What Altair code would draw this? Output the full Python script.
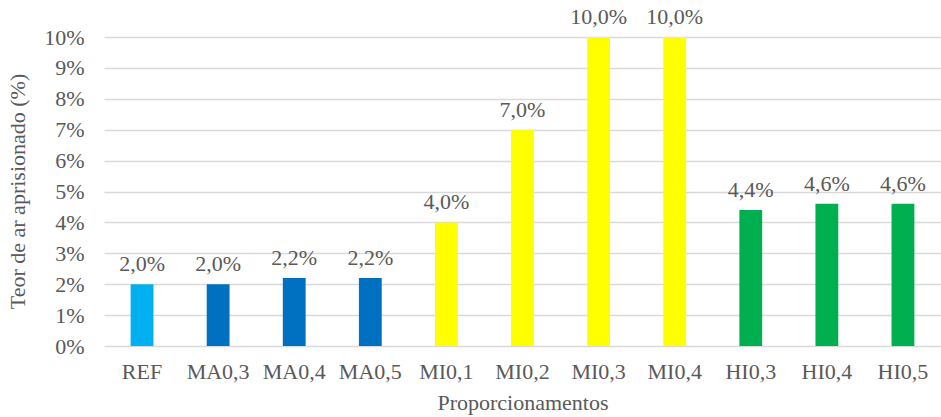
import altair as alt
import pandas as pd

categories = ["REF", "MA0,3", "MA0,4", "MA0,5", "MI0,1", "MI0,2", "MI0,3", "MI0,4", "HI0,3", "HI0,4", "HI0,5"]
groups = ["REF", "MA", "MA", "MA", "MI", "MI", "MI", "MI", "HI", "HI", "HI"]
values = [2.0, 2.0, 2.2, 2.2, 4.0, 7.0, 10.0, 10.0, 4.4, 4.6, 4.6]

group_names = ["REF", "MA", "MI", "HI"]
group_colors = ["#00B0F0", "#0070C0", "#FFFF00", "#00B050"]

df = pd.DataFrame({
    "cat": categories,
    "grp": groups,
    "val": values,
    "lbl": [f"{v:.1f}%".replace(".", ",") for v in values],
})

FONT = "Liberation Serif"
GRAY = "#595959"
FS = 22

x = alt.X(
    "cat:N",
    sort=categories,
    scale=alt.Scale(paddingInner=0.7, paddingOuter=0.35),
    axis=alt.Axis(
        title="Proporcionamentos",
        labelAngle=0,
        ticks=False,
        domain=False,
        labelPadding=15,
        labelFontSize=FS,
        labelColor=GRAY,
        labelFont=FONT,
        titleFont=FONT,
        titleFontSize=FS,
        titleColor=GRAY,
        titleFontWeight="normal",
        titlePadding=10,
    ),
)

y = alt.Y(
    "val:Q",
    scale=alt.Scale(domain=[0, 10], nice=False),
    axis=alt.Axis(
        title="Teor de ar aprisionado (%)",
        values=list(range(0, 11)),
        labelExpr="datum.value + '%'",
        labelOverlap=False,
        ticks=False,
        domain=False,
        gridColor="#D9D9D9",
        gridWidth=1.3,
        labelPadding=20,
        labelFontSize=FS,
        labelColor=GRAY,
        labelFont=FONT,
        titleFont=FONT,
        titleFontSize=FS,
        titleColor=GRAY,
        titleFontWeight="normal",
        titleBaseline="middle",
        titleX=-87,
        titleY=154,
    ),
)

base = alt.Chart(df).encode(x=x, y=y)

bars = base.mark_bar().encode(
    color=alt.Color(
        "grp:N",
        scale=alt.Scale(domain=group_names, range=group_colors),
        legend=None,
    ),
)

text = base.mark_text(
    baseline="alphabetic", dy=-13, fontSize=FS, font=FONT, color=GRAY
).encode(text="lbl:N")

chart = (
    alt.layer(bars, text)
    .properties(
        width=837,
        height=309,
        autosize=alt.AutoSizeParams(type="none"),
        padding={"left": 104, "top": 37, "right": 0, "bottom": 71},
        background="white",
    )
    .configure_view(stroke=None)
)

chart.save("out.html", embed_options={"renderer": "svg", "actions": False})
